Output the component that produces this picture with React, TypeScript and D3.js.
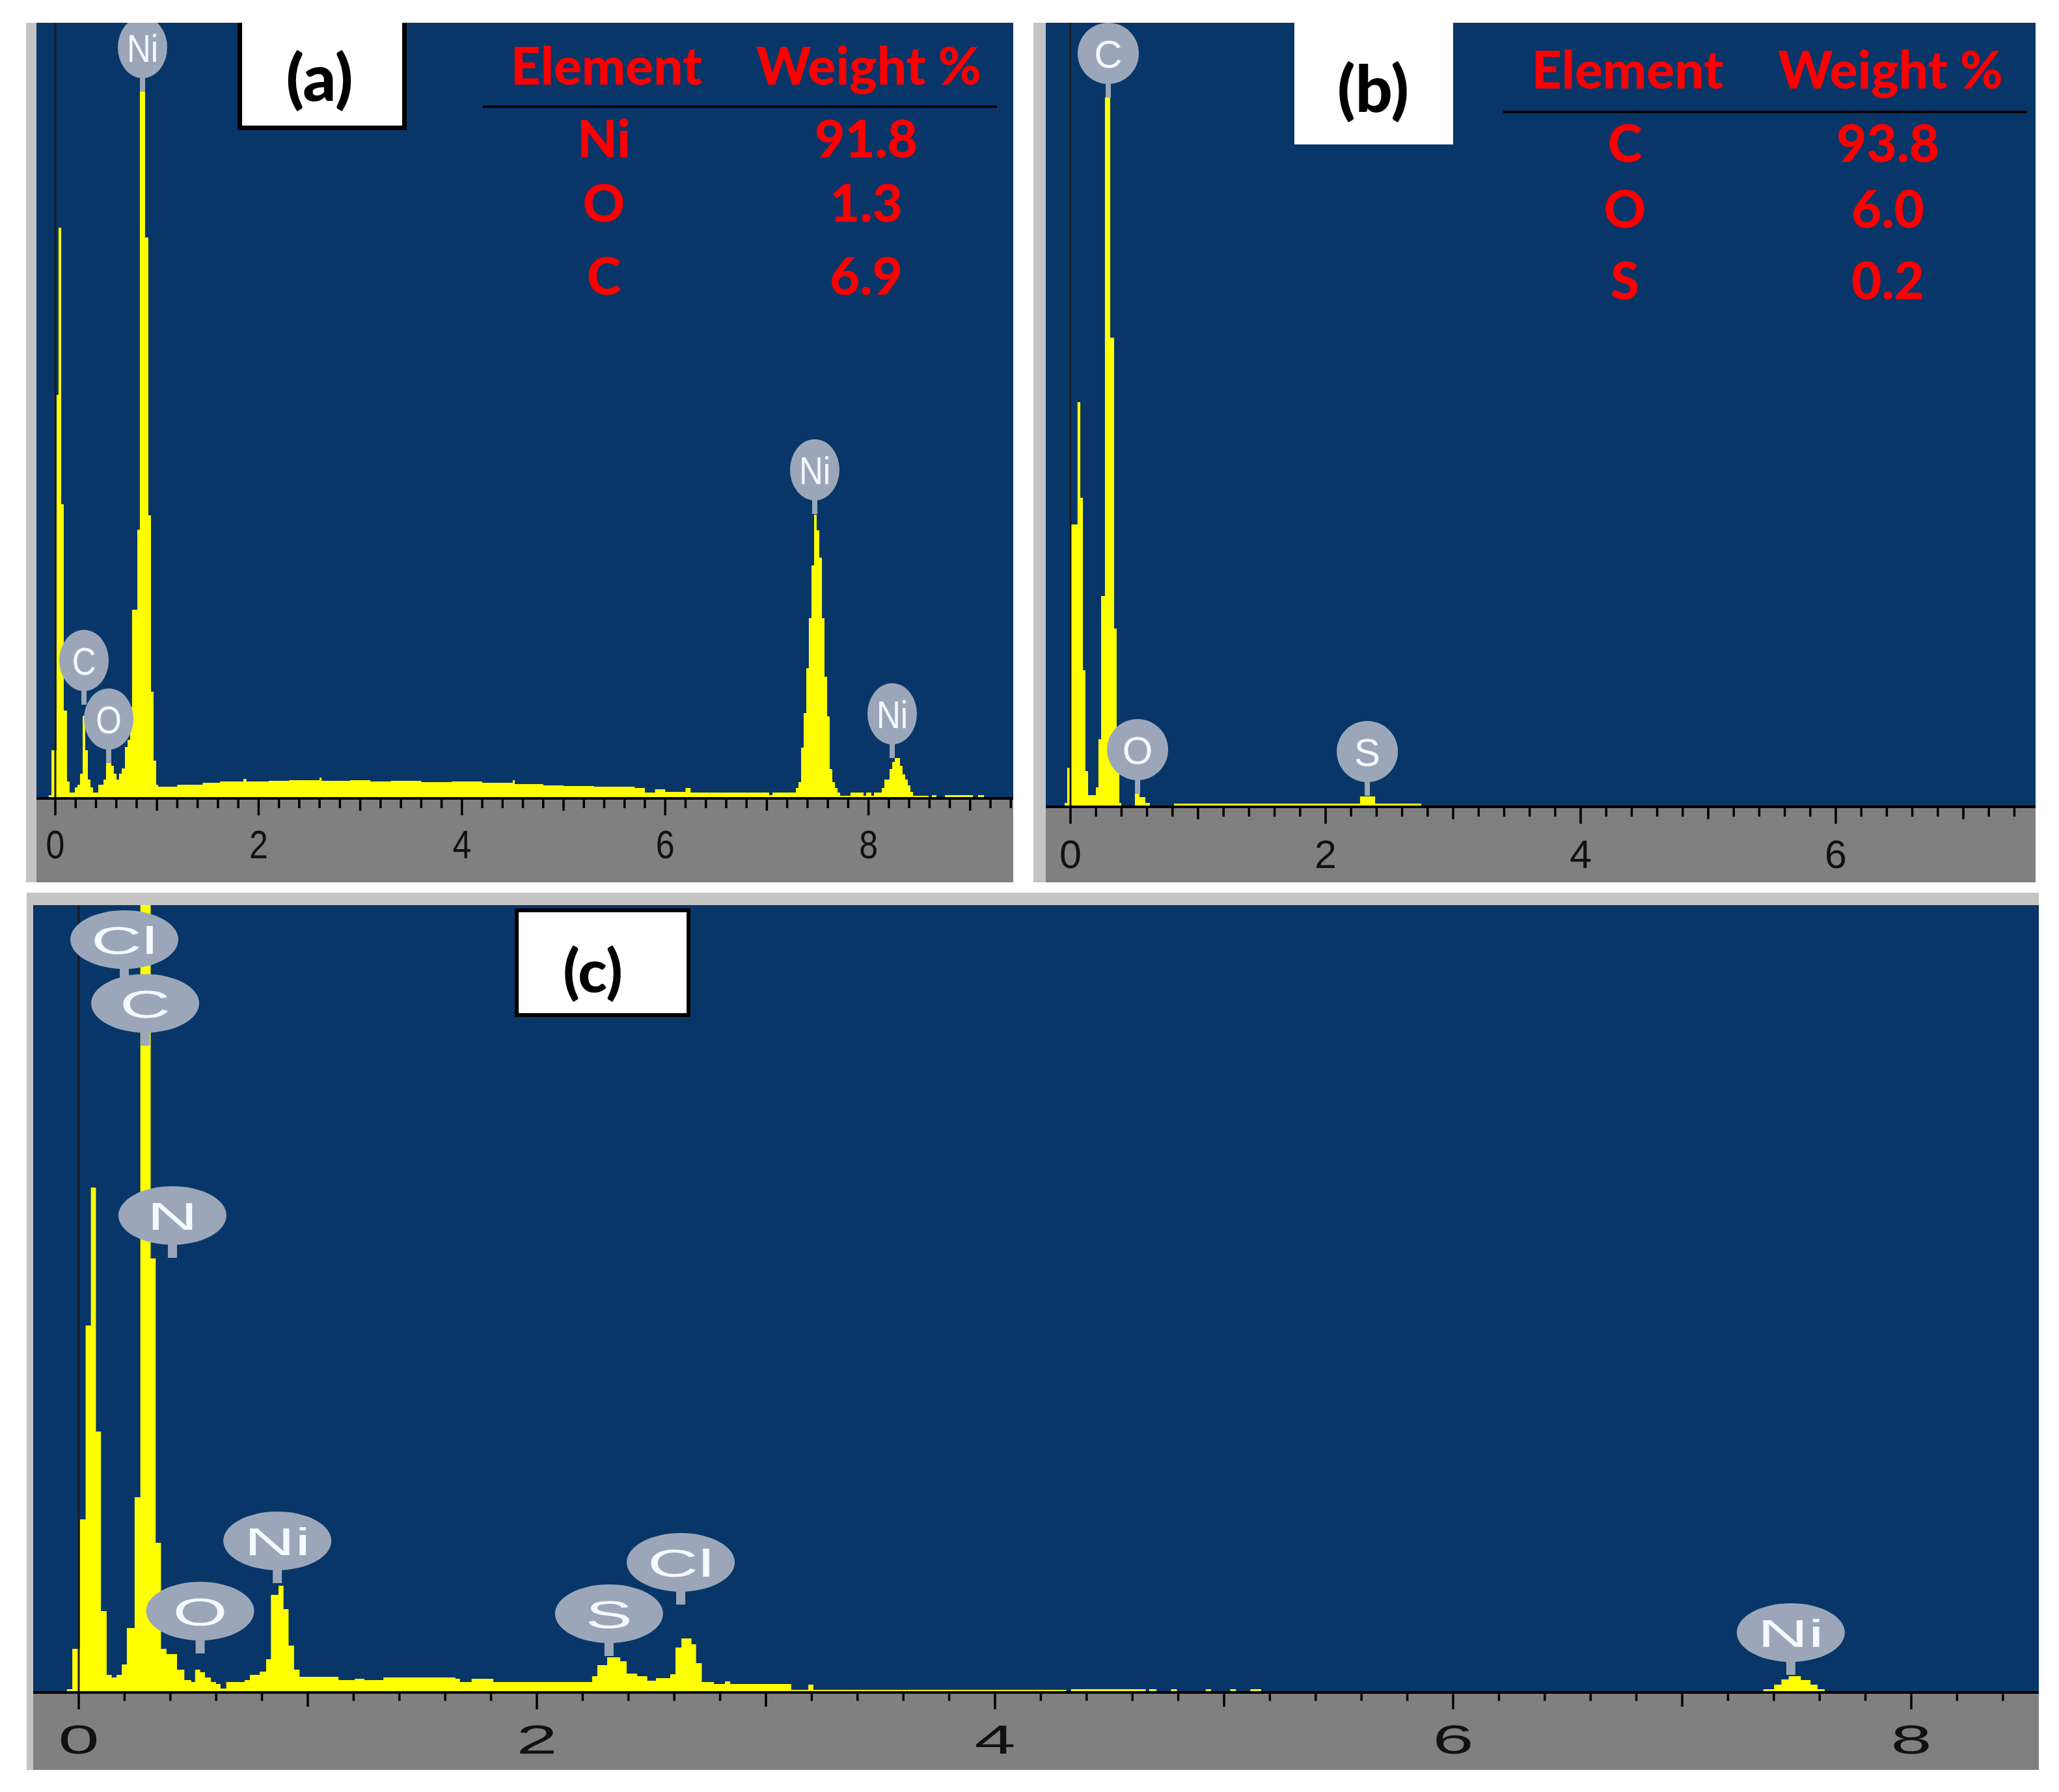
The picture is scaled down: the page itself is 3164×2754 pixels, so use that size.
import React from 'react';
import * as d3 from 'd3';

const spectrumA: [number, number][] = [
  [-0.19, 0], [-0.064, 5], [-0.038, 74], [0.013, 620], [0.032, 877], [0.058, 452], [0.083, 135],
  [0.115, 26], [0.141, 9], [0.192, 17], [0.218, 21], [0.243, 38], [0.269, 127], [0.294, 74],
  [0.32, 29], [0.346, 17], [0.371, 9], [0.423, 21], [0.474, 29], [0.499, 54], [0.551, 50],
  [0.576, 38], [0.602, 29], [0.627, 38], [0.653, 46], [0.685, 79], [0.711, 90], [0.736, 140],
  [0.755, 290], [0.807, 413], [0.832, 1087], [0.883, 862], [0.915, 435], [0.941, 164],
  [0.967, 58], [0.992, 21], [1.012, 18], [1.2, 21], [1.45, 24], [1.62, 26], [1.85, 30],
  [1.88, 26], [2.1, 27], [2.3, 28], [2.6, 32], [2.62, 27], [2.9, 28], [3.1, 26], [3.3, 27],
  [3.6, 25], [3.9, 26], [4.2, 24], [4.5, 28], [4.52, 22], [4.8, 20], [5.0, 19], [5.3, 18],
  [5.7, 16], [5.8, 9], [5.9, 14], [6.0, 10], [6.2, 16], [6.25, 9], [7.023, 5], [7.055, 9],
  [7.286, 16], [7.311, 25], [7.337, 78], [7.362, 131], [7.388, 200], [7.413, 277], [7.439, 358],
  [7.465, 436], [7.49, 412], [7.516, 370], [7.542, 277], [7.567, 187], [7.593, 126], [7.618, 45],
  [7.644, 25], [7.67, 16], [7.695, 9], [7.721, 4], [7.823, 9], [7.951, 4], [7.977, 9], [8.028, 4],
  [8.054, 9], [8.131, 16], [8.156, 29], [8.207, 45], [8.233, 56], [8.259, 62], [8.31, 50],
  [8.335, 37], [8.361, 29], [8.387, 20], [8.412, 10], [8.438, 4], [8.592, 1], [8.624, 5],
  [8.668, 1], [8.752, 5], [9.027, 1], [9.078, 5], [9.136, 1], [9.328, 0],
];

const spectrumB: [number, number][] = [
  [-0.19, 0], [-0.046, 6], [-0.026, 60], [-0.005, 434], [0.055, 622], [0.077, 475], [0.097, 210],
  [0.117, 55], [0.138, 18], [0.199, 30], [0.219, 104], [0.24, 324], [0.27, 1090], [0.311, 721],
  [0.342, 274], [0.362, 55], [0.383, 6], [0.398, 0], [0.505, 21], [0.541, 15], [0.587, 6],
  [0.622, 0], [0.811, 5], [2.27, 16], [2.388, 5], [2.75, 0],
];

const spectrumC: [number, number][] = [
  [-0.199, 0], [-0.052, 5], [-0.028, 67], [0.005, 266], [0.03, 564], [0.053, 776], [0.075, 401],
  [0.097, 125], [0.122, 27], [0.144, 23], [0.165, 27], [0.188, 43], [0.21, 99], [0.244, 300],
  [0.269, 1300], [0.314, 667], [0.336, 230], [0.359, 67], [0.383, 59], [0.429, 35], [0.461, 19],
  [0.491, 16], [0.508, 35], [0.53, 31], [0.551, 23], [0.577, 16], [0.599, 13], [0.619, 6],
  [0.644, 16], [0.724, 19], [0.747, 27], [0.79, 32], [0.818, 51], [0.839, 150], [0.872, 164],
  [0.894, 128], [0.916, 72], [0.94, 35], [0.964, 24], [1.134, 19], [1.205, 21], [1.247, 19],
  [1.33, 23], [1.645, 21], [1.664, 16], [1.715, 21], [1.81, 16], [2.241, 25], [2.264, 42],
  [2.307, 54], [2.364, 48], [2.392, 29], [2.438, 25], [2.482, 18], [2.52, 22], [2.582, 28],
  [2.605, 69], [2.631, 83], [2.675, 74], [2.695, 45], [2.72, 16], [2.773, 13], [2.821, 17],
  [2.844, 13], [3.11, 4], [3.185, 12], [3.207, 4], [4.311, 0], [4.332, 5], [4.658, 0],
  [4.673, 5], [4.705, 0], [4.768, 5], [4.794, 0], [4.92, 5], [4.943, 0], [5.027, 5], [5.052, 0],
  [5.115, 5], [5.162, 0], [7.354, 5], [7.401, 12], [7.433, 20], [7.465, 25], [7.518, 19],
  [7.56, 12], [7.591, 5], [7.622, 0],
];

// Etiquetas de picos (elemento, energía, altura del extremo del pin)
const peakNamesA = ['Ni', 'C', 'O', 'Ni', 'Ni'];
const peakKeVA = [0.858, 0.282, 0.525, 7.471, 8.233];
const peakTopA = [1086, 144, 54, 437, 62];

const peakNamesB = ['C', 'O', 'S'];
const peakKeVB = [0.296, 0.526, 2.327];
const peakTopB = [1090, 20, 17];

const peakNamesC = ['Cl', 'C', 'N', 'O', 'Ni', 'S', 'Cl', 'Ni'];
const peakKeVC = [0.199, 0.29, 0.409, 0.53, 0.867, 2.315, 2.628, 7.474];
const peakTopC = [1092, 994, 668, 60, 168, 56, 135, 27];

// Tablas de composición
const tableHeader = ['Element', 'Weight %'];
const tableElementsA = ['Ni', 'O', 'C'];
const tableWeightsA = ['91.8', '1.3', '6.9'];
const tableElementsB = ['C', 'O', 'S'];
const tableWeightsB = ['93.8', '6.0', '0.2'];

const ticksA = [0, 2, 4, 6, 8];
const ticksB = [0, 2, 4, 6];
const ticksC = [0, 2, 4, 6, 8];

const BLUE = '#083669';
const YELLOW = '#ffff00';
const BUBBLE = '#9ba7b9';
const AXIS_GRAY = '#808080';
const FRAME_GRAY = '#c4c4c4';
const SANS = "'Liberation Sans', Arial, sans-serif";
const CALIBRI = "Lato, Carlito, Calibri, sans-serif";

type PanelCfg = {
  id: string;
  spectrum: [number, number][];
  names: string[];
  keV: number[];
  tops: number[];
  ticks: number[];
  left: number; right: number; top: number; axisY: number; bottom: number;
  x0: number; ppk: number; yMax: number;
  textSx: number; tickFont: number; tickBase: number;
  rx: number; ry: number; stemW: number; stemL: number;
  tickLen: [number, number, number];
};

function Panel({ c }: { c: PanelCfg }) {
  const xs = d3.scaleLinear().domain([0, 1]).range([c.x0, c.x0 + c.ppk]);
  const ys = d3.scaleLinear().domain([0, c.yMax]).range([c.axisY, c.top]);
  const area = d3.area<[number, number]>()
    .x(d => xs(d[0]))
    .y0(c.axisY)
    .y1(d => ys(d[1]))
    .curve(d3.curveStepAfter);

  const kMin = Math.ceil(xs.invert(c.left) * 5);
  const kMax = Math.floor(xs.invert(c.right) * 5);
  const minor = d3.range(kMin, kMax + 1);

  return (
    <g>
      <defs>
        <clipPath id={`clip-${c.id}`}>
          <rect x={c.left} y={c.top} width={c.right - c.left} height={c.axisY - c.top} />
        </clipPath>
        <clipPath id={`clipx-${c.id}`}>
          <rect x={c.left} y={c.axisY} width={c.right - c.left} height={c.bottom - c.axisY} />
        </clipPath>
      </defs>
      <rect x={c.left} y={c.top} width={c.right - c.left} height={c.axisY - c.top} fill={BLUE} />
      <rect x={c.left} y={c.axisY} width={c.right - c.left} height={c.bottom - c.axisY} fill={AXIS_GRAY} />
      <g clipPath={`url(#clip-${c.id})`}>
        <path d={area(c.spectrum) ?? ''} fill={YELLOW} />
        <line x1={xs(0)} x2={xs(0)} y1={c.top} y2={c.axisY} stroke="#1c1c1c" strokeWidth={3} />
        {c.names.map((n, i) => {
          const cx = xs(c.keV[i]);
          const sb = ys(c.tops[i]);
          const cy = sb - c.stemL - c.ry;
          return (
            <g key={i}>
              <rect x={cx - c.stemW / 2} y={sb - c.stemL - 2} width={c.stemW} height={c.stemL + 2} fill={BUBBLE} />
              <ellipse cx={cx} cy={cy} rx={c.rx} ry={c.ry} fill={BUBBLE} />
              <text
                transform={`translate(${cx},${cy + 22}) scale(${c.textSx},1)`}
                textAnchor="middle" fontFamily={SANS} fontSize={60} fill="#f6f9ff"
              >{n}</text>
            </g>
          );
        })}
      </g>
      <g clipPath={`url(#clipx-${c.id})`}>
        {minor.map(k => {
          const len = k % 10 === 0 ? c.tickLen[0] : k % 5 === 0 ? c.tickLen[1] : c.tickLen[2];
          const x = xs(k / 5);
          return <line key={k} x1={x} x2={x} y1={c.axisY} y2={c.axisY + len} stroke="#000" strokeWidth={3.5} />;
        })}
      </g>
      <line x1={c.left} x2={c.right} y1={c.axisY} y2={c.axisY} stroke="#000" strokeWidth={4} />
      {c.ticks.map(t => (
        <text key={t}
          transform={`translate(${xs(t)},${c.tickBase}) scale(${c.textSx},1)`}
          textAnchor="middle" fontFamily={SANS} fontSize={c.tickFont} fill="#111"
        >{t}</text>
      ))}
    </g>
  );
}

function CompTable({ elements, weights, colE, colW, headY, lineY, lineX1, lineX2, rowsY }:
  { elements: string[]; weights: string[]; colE: number; colW: number; headY: number;
    lineY: number; lineX1: number; lineX2: number; rowsY: number[] }) {
  const st = { fontFamily: CALIBRI, fontWeight: 900, fontSize: 80, fill: '#ff0000' } as const;
  return (
    <g>
      <text x={colE + 4} y={headY} textAnchor="middle" {...st}>{tableHeader[0]}</text>
      <text x={colW + 4} y={headY} textAnchor="middle" {...st}>{tableHeader[1]}</text>
      <line x1={lineX1} x2={lineX2} y1={lineY} y2={lineY} stroke="#000" strokeWidth={4} />
      {elements.map((e, i) => (
        <g key={i}>
          <text x={colE} y={rowsY[i]} textAnchor="middle" {...st}>{e}</text>
          <text x={colW} y={rowsY[i]} textAnchor="middle" {...st}>{weights[i]}</text>
        </g>
      ))}
    </g>
  );
}

const panelA: PanelCfg = {
  id: 'a', spectrum: spectrumA, names: peakNamesA, keV: peakKeVA, tops: peakTopA, ticks: ticksA,
  left: 56, right: 1557, top: 35, axisY: 1227, bottom: 1356, x0: 85, ppk: 156.2, yMax: 1192,
  textSx: 0.85, tickFont: 61, tickBase: 1319, rx: 38, ry: 47, stemW: 8, stemL: 21, tickLen: [26, 19, 15],
};
const panelB: PanelCfg = {
  id: 'b', spectrum: spectrumB, names: peakNamesB, keV: peakKeVB, tops: peakTopB, ticks: ticksB,
  left: 1607, right: 3128, top: 35, axisY: 1240, bottom: 1356, x0: 1645, ppk: 196, yMax: 1205,
  textSx: 1.0, tickFont: 61, tickBase: 1334, rx: 47, ry: 47, stemW: 8, stemL: 21, tickLen: [26, 19, 15],
};
const panelC: PanelCfg = {
  id: 'c', spectrum: spectrumC, names: peakNamesC, keV: peakKeVC, tops: peakTopC, ticks: ticksC,
  left: 51, right: 3133, top: 1391, axisY: 2601, bottom: 2720, x0: 121, ppk: 352, yMax: 1210,
  textSx: 1.8, tickFont: 63, tickBase: 2695, rx: 83, ry: 45, stemW: 14, stemL: 20, tickLen: [26, 22, 13],
};

export default function App() {
  const W = 3164;
  const H = 2754;
  const boxFont = { fontFamily: CALIBRI, fontWeight: 900, fill: '#000' } as const;
  return (
    <>
      <style>{`body{margin:0;background:#fff}`}</style>
      <svg width={W} height={H} viewBox={`0 0 ${W} ${H}`} style={{ display: 'block' }}>
        <rect width={W} height={H} fill="#fff" />
        {/* marcos grises claros */}
        <rect x={40} y={35} width={16} height={1321} fill={FRAME_GRAY} />
        <rect x={1588} y={35} width={19} height={1321} fill={FRAME_GRAY} />
        <rect x={41} y={1372} width={3092} height={19} fill={FRAME_GRAY} />
        <rect x={41} y={1372} width={10} height={1348} fill={FRAME_GRAY} />

        <Panel c={panelA} />
        <Panel c={panelB} />
        <Panel c={panelC} />

        {/* (a) */}
        <rect x={368} y={35} width={254} height={162} fill="#fff" />
        <path d="M368.5 35 V196.5 H621.5 V35" fill="none" stroke="#000" strokeWidth={7} />
        <text x={491} y={116} textAnchor="middle" dominantBaseline="central" fontSize={100} {...boxFont}>(a)</text>
        <CompTable elements={tableElementsA} weights={tableWeightsA} colE={928} colW={1331}
          headY={130} lineY={164} lineX1={742} lineX2={1532} rowsY={[242, 341, 453]} />

        {/* (b) */}
        <rect x={1989} y={35} width={244} height={187} fill="#fff" />
        <text x={2110} y={133} textAnchor="middle" dominantBaseline="central" fontSize={100} {...boxFont}>(b)</text>
        <CompTable elements={tableElementsB} weights={tableWeightsB} colE={2497} colW={2901}
          headY={136} lineY={172} lineX1={2310} lineX2={3115} rowsY={[249, 350, 460]} />

        {/* (c) */}
        <rect x={794} y={1399} width={264} height={161} fill="#fff" stroke="#000" strokeWidth={6} />
        <text x={911} y={1489} textAnchor="middle" dominantBaseline="central" fontSize={92} {...boxFont}>(c)</text>
      </svg>
    </>
  );
}
